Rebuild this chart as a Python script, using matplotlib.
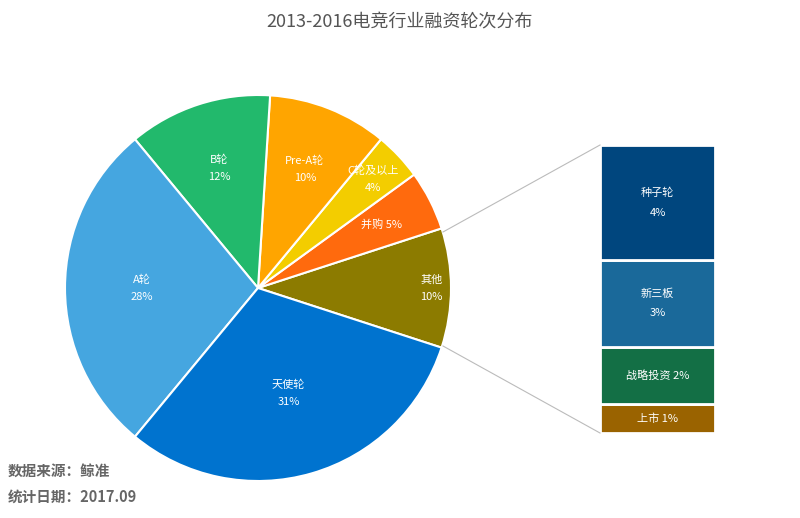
import matplotlib
matplotlib.use("Agg")
import matplotlib.pyplot as plt
import numpy as np
from matplotlib.lines import Line2D

plt.rcParams['font.family'] = ['Noto Sans CJK SC', 'DejaVu Sans']

pie_labels = ['其他', '并购', 'C轮及以上', 'Pre-A轮', 'B轮', 'A轮', '天使轮']
pie_values = [10, 5, 4, 10, 12, 28, 31]
pie_colors = ['#8C7B00', '#FF6A0D', '#F3CD00', '#FFA500', '#22B96C', '#45A6E0', '#0073CF']
bar_labels = ['种子轮', '新三板', '战略投资', '上市']
bar_values = [4, 3, 2, 1]
bar_colors = ['#00467E', '#1A699A', '#136F45', '#9A6300']

W, H = 800, 518
fig = plt.figure(figsize=(8, 5.18), dpi=100)
fig.patch.set_facecolor('white')

ax = fig.add_axes([65/W, (H-481)/H, 386/W, 386/H])
wedges, _ = ax.pie(pie_values, colors=pie_colors, startangle=-18, counterclock=True,
                   wedgeprops=dict(edgecolor='white', linewidth=1.5))
ax.set_xlim(-1, 1); ax.set_ylim(-1, 1); ax.set_aspect('equal')
rad = [0.9, 0.72, 0.82, 0.66, 0.65, 0.6, 0.57]
oneline = {'并购'}
cum = -18
for lab, v, r in zip(pie_labels, pie_values, rad):
    a = np.deg2rad(cum + v*3.6/2)
    cum += v*3.6
    txt = f'{lab} {v}%' if lab in oneline else f'{lab}\n{v}%'
    ax.text(r*np.cos(a), r*np.sin(a), txt, ha='center', va='center', color='white',
            fontsize=8, linespacing=1.9)

bx = fig.add_axes([600/W, (H-433)/H, 115/W, 288/H])
bottom = 0
total = sum(bar_values)
for lab, v, c in zip(reversed(bar_labels), reversed(bar_values), reversed(bar_colors)):
    bx.bar(0, v, bottom=bottom, width=1, color=c, edgecolor='white', linewidth=2)
    txt = f'{lab}\n{v}%' if v >= 3 else f'{lab} {v}%'
    bx.text(0, bottom + v/2, txt, ha='center', va='center', color='white', fontsize=8,
            linespacing=2.2)
    bottom += v
bx.set_xlim(-0.5, 0.5); bx.set_ylim(0, total); bx.axis('off')

for (x1, y1), (x2, y2) in [((443, 232), (600, 145)), ((443, 346), (600, 433))]:
    fig.add_artist(Line2D([x1/W, x2/W], [1-y1/H, 1-y2/H], color='#BBBBBB', lw=0.8))

fig.text(0.5, 1-22/H, '2013-2016电竞行业融资轮次分布', ha='center', va='center',
         fontsize=13, color='#555555')
fig.text(8/W, 1-471/H, '数据来源：鲸准', fontsize=10.5, fontweight='bold', color='#666666', va='center')
fig.text(8/W, 1-497/H, '统计日期：2017.09', fontsize=10.5, fontweight='bold', color='#666666', va='center')

fig.savefig('out.png', dpi=100)
